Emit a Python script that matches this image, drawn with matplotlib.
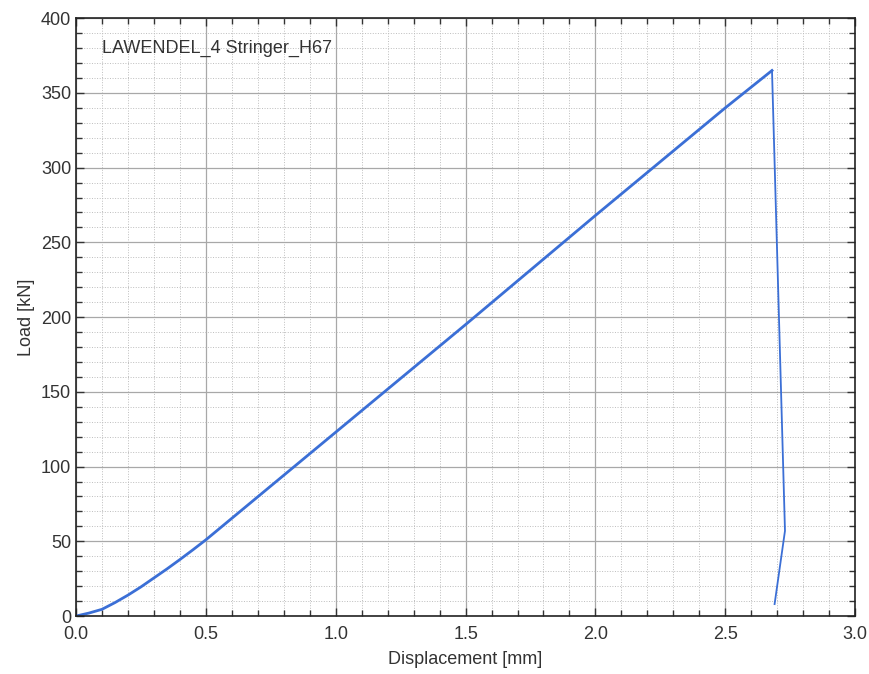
import numpy as np
import matplotlib.pyplot as plt
from matplotlib.ticker import MultipleLocator

plt.rcParams['font.family'] = ['Liberation Sans', 'DejaVu Sans']

# load-displacement curve (rising part)
disp_rise = [0.0, 0.05, 0.1, 0.15, 0.2, 0.25, 0.3, 0.35, 0.4, 0.45, 0.5, 1.0, 1.5, 2.0, 2.5, 2.68]
load_rise = [0.0, 2.0, 4.5, 9.0, 14.0, 19.5, 25.5, 31.5, 37.8, 44.3, 51.0, 123.0, 195.0, 268.0, 340.0, 365.0]
# failure / drop
disp_drop = [2.68, 2.73, 2.69]
load_drop = [365.0, 57.0, 8.0]

title = 'LAWENDEL_4 Stringer_H67'
blue = '#3b6fd6'

fig = plt.figure(figsize=(8.69, 6.74), dpi=100)
ax = fig.add_axes([0.0875, 0.086, 0.8965, 0.887])

ax.plot(disp_rise, load_rise, color=blue, lw=2.0)
ax.plot(disp_drop, load_drop, color=blue, lw=1.3)

ax.set_xlim(0, 3.0)
ax.set_ylim(0, 400)
ax.xaxis.set_major_locator(MultipleLocator(0.5))
ax.xaxis.set_minor_locator(MultipleLocator(0.1))
ax.yaxis.set_major_locator(MultipleLocator(50))
ax.yaxis.set_minor_locator(MultipleLocator(10))
ax.xaxis.set_major_formatter(plt.FormatStrFormatter('%.1f'))

ax.grid(which='major', color='#a8a8a8', lw=0.9)
ax.grid(which='minor', color='#bdbdbd', lw=0.7, ls=':')
ax.set_axisbelow(True)

ax.tick_params(which='both', direction='in', top=True, right=True, labelsize=13, colors='#333333')
ax.tick_params(which='major', length=6, width=1)
ax.tick_params(which='minor', length=4, width=1)
ax.tick_params(axis='x', pad=7)
for s in ax.spines.values():
    s.set_color('#222222')
    s.set_linewidth(1.2)

ax.set_xlabel('Displacement [mm]', fontsize=13, color='#333333', labelpad=6)
ax.set_ylabel('Load [kN]', fontsize=13, color='#333333')
ax.text(0.1, 380, title, fontsize=13, color='#333333', va='center')

fig.savefig('out.png', dpi=100)
